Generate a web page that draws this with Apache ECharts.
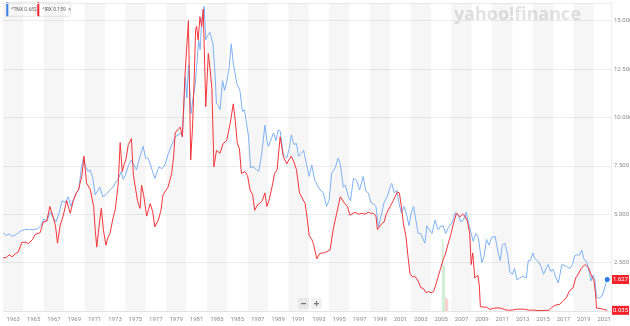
<!DOCTYPE html>
<html>
<head>
<meta charset="utf-8">
<script src="https://cdn.jsdelivr.net/npm/echarts@6/dist/echarts.min.js"></script>
<style>
  html, body { margin: 0; padding: 0; background: #fff; }
  #chart { width: 630px; height: 326px; }
</style>
</head>
<body>
<div id="chart"></div>
<script>
// 10-year Treasury yield (^TNX), [year, percent]
const tnx = [
  [1962.0,4.05],[1962.3,3.90],[1962.6,3.98],[1962.9,3.86],[1963.3,3.95],[1963.7,4.12],[1964.1,4.20],[1964.6,4.22],
  [1965.0,4.20],[1965.4,4.25],[1965.7,4.40],[1966.0,4.75],[1966.3,4.65],[1966.65,5.10],[1966.9,4.85],[1967.2,4.60],
  [1967.5,5.05],[1967.8,5.70],[1968.1,5.60],[1968.4,5.90],[1968.65,5.40],[1968.9,5.75],[1969.2,6.10],[1969.45,6.30],
  [1969.7,7.45],[1969.9,7.90],[1970.1,7.50],[1970.35,7.20],[1970.55,7.30],[1970.8,6.90],[1971.05,6.00],[1971.2,5.90],
  [1971.5,6.40],[1971.8,5.90],[1972.1,6.00],[1972.5,6.25],[1972.8,6.40],[1973.0,6.60],[1973.3,6.80],[1973.6,7.20],
  [1973.8,6.80],[1974.0,7.00],[1974.3,7.50],[1974.6,7.80],[1974.9,7.50],[1975.1,7.30],[1975.4,7.90],[1975.75,8.50],
  [1976.0,7.90],[1976.25,7.90],[1976.5,7.50],[1976.9,6.85],[1977.3,7.45],[1977.6,7.35],[1977.9,7.55],[1978.2,8.10],
  [1978.5,8.50],[1978.9,9.00],[1979.2,9.10],[1979.45,9.20],[1979.6,9.00],[1979.75,10.50],[1979.9,12.10],[1980.05,11.00],
  [1980.2,12.70],[1980.45,10.20],[1980.65,11.00],[1980.85,11.60],[1981.0,12.60],[1981.2,14.00],[1981.35,13.50],[1981.5,15.00],
  [1981.75,15.75],[1981.9,14.00],[1982.05,14.20],[1982.3,14.40],[1982.6,13.80],[1982.8,12.30],[1982.95,10.70],[1983.15,10.60],
  [1983.3,10.40],[1983.55,11.90],[1983.75,11.40],[1983.95,11.80],[1984.2,12.60],[1984.4,13.80],[1984.6,12.80],[1984.8,12.20],
  [1984.95,11.75],[1985.25,11.40],[1985.5,10.30],[1985.7,10.40],[1985.9,9.70],[1986.1,9.00],[1986.3,7.40],[1986.55,7.45],
  [1986.9,7.30],[1987.1,7.20],[1987.4,8.15],[1987.7,9.60],[1987.9,8.80],[1988.05,8.50],[1988.2,8.40],[1988.55,9.20],
  [1988.8,8.80],[1989.0,9.35],[1989.2,9.30],[1989.5,8.10],[1989.85,7.90],[1990.1,8.40],[1990.3,9.10],[1990.55,8.60],
  [1990.8,8.65],[1991.0,8.00],[1991.3,8.15],[1991.5,8.30],[1991.8,7.55],[1992.05,6.95],[1992.3,7.55],[1992.6,6.75],
  [1992.95,6.40],[1993.2,6.20],[1993.45,6.10],[1993.75,5.40],[1994.0,5.70],[1994.25,7.10],[1994.6,7.40],[1994.9,7.90],
  [1995.1,7.60],[1995.4,6.40],[1995.6,6.50],[1995.9,5.90],[1996.1,5.70],[1996.4,6.85],[1996.7,6.75],[1997.0,6.25],
  [1997.35,6.95],[1997.6,6.20],[1997.85,6.10],[1998.1,5.60],[1998.35,5.55],[1998.6,5.40],[1998.85,4.35],[1999.1,4.90],
  [1999.4,5.60],[1999.7,5.90],[2000.0,6.40],[2000.15,6.60],[2000.4,6.10],[2000.65,6.25],[2000.85,5.60],[2001.1,5.05],
  [2001.35,5.40],[2001.6,5.00],[2001.85,4.40],[2002.05,5.05],[2002.3,5.40],[2002.55,4.60],[2002.75,4.00],[2003.0,4.00],
  [2003.4,3.50],[2003.6,4.40],[2003.75,4.35],[2004.1,4.00],[2004.4,4.70],[2004.7,4.20],[2004.9,4.35],[2005.2,4.40],
  [2005.45,4.00],[2005.7,4.30],[2005.9,4.45],[2006.1,4.60],[2006.4,5.10],[2006.7,4.90],[2006.95,4.60],[2007.2,4.70],
  [2007.45,5.10],[2007.7,4.50],[2007.9,4.10],[2008.15,3.60],[2008.4,4.00],[2008.65,3.80],[2008.85,3.00],[2009.0,2.50],
  [2009.2,2.80],[2009.45,3.70],[2009.7,3.40],[2009.95,3.80],[2010.3,3.85],[2010.6,3.00],[2010.8,2.60],[2011.0,3.40],
  [2011.25,3.50],[2011.5,3.00],[2011.75,2.00],[2012.0,1.90],[2012.2,2.20],[2012.45,1.60],[2012.7,1.70],[2013.05,1.80],
  [2013.35,1.70],[2013.55,2.60],[2013.75,2.60],[2014.0,3.00],[2014.2,2.70],[2014.55,2.55],[2014.8,2.30],[2015.05,1.90],
  [2015.35,2.25],[2015.5,2.40],[2015.75,2.05],[2016.0,2.15],[2016.2,1.80],[2016.5,1.45],[2016.85,2.40],[2017.0,2.46],
  [2017.3,2.30],[2017.65,2.20],[2017.9,2.40],[2018.1,2.85],[2018.35,2.90],[2018.6,2.90],[2018.8,3.15],[2019.0,2.70],
  [2019.3,2.50],[2019.55,2.00],[2019.7,1.55],[2019.9,1.85],[2020.1,1.60],[2020.25,0.70],[2020.45,0.66],[2020.75,0.75],
  [2021.0,1.10],[2021.15,1.40],[2021.3,1.627]
];

// 13-week Treasury bill rate (^IRX), [year, percent]
const irx = [
  [1962.0,2.75],[1962.3,2.75],[1962.6,2.90],[1962.9,2.80],[1963.2,2.95],[1963.5,3.05],[1963.85,3.55],[1964.2,3.55],
  [1964.5,3.48],[1964.9,3.70],[1965.15,3.95],[1965.65,4.05],[1965.95,4.60],[1966.3,4.65],[1966.6,5.40],[1966.9,4.90],
  [1967.15,4.40],[1967.35,3.50],[1967.6,4.40],[1967.9,4.90],[1968.25,5.70],[1968.6,5.05],[1968.9,5.70],[1969.2,6.10],
  [1969.4,6.25],[1969.75,7.00],[1969.95,8.00],[1970.2,6.60],[1970.55,6.30],[1970.9,5.40],[1971.05,4.20],[1971.2,3.30],
  [1971.5,4.70],[1971.65,5.30],[1971.85,4.20],[1972.1,3.40],[1972.3,3.80],[1972.5,4.00],[1972.8,4.80],[1973.0,5.20],
  [1973.3,6.50],[1973.5,8.70],[1973.7,7.20],[1973.9,7.60],[1974.05,7.80],[1974.3,8.60],[1974.6,8.90],[1974.8,7.00],
  [1974.95,6.90],[1975.2,5.70],[1975.45,5.30],[1975.6,6.50],[1975.8,6.00],[1976.1,4.90],[1976.45,5.55],[1976.7,5.10],
  [1976.9,4.35],[1977.25,4.70],[1977.5,5.20],[1977.7,6.00],[1977.95,6.20],[1978.2,6.40],[1978.55,7.10],[1978.75,8.00],
  [1978.9,9.20],[1979.2,9.40],[1979.4,9.50],[1979.6,9.00],[1979.75,10.80],[1979.85,12.10],[1980.0,12.00],[1980.2,15.00],
  [1980.42,7.80],[1980.6,9.50],[1980.75,11.80],[1980.9,14.50],[1981.0,14.70],[1981.15,14.00],[1981.33,15.20],[1981.5,14.70],
  [1981.65,15.60],[1981.9,10.55],[1982.15,13.30],[1982.3,12.60],[1982.5,11.50],[1982.7,7.45],[1982.95,8.30],[1983.3,8.15],
  [1983.6,8.65],[1983.95,8.80],[1984.3,9.70],[1984.6,10.70],[1984.8,9.80],[1985.0,8.65],[1985.2,8.40],[1985.4,7.10],
  [1985.75,7.20],[1986.0,7.00],[1986.25,6.25],[1986.5,6.00],[1986.7,5.20],[1987.0,5.50],[1987.2,5.55],[1987.45,5.70],
  [1987.7,6.10],[1987.9,5.40],[1988.1,5.70],[1988.4,6.40],[1988.65,7.10],[1988.9,7.30],[1989.2,9.00],[1989.5,8.00],
  [1989.85,7.60],[1990.05,7.80],[1990.3,8.00],[1990.55,7.70],[1990.8,7.30],[1991.1,6.10],[1991.3,5.90],[1991.65,5.55],
  [1991.85,4.80],[1992.05,3.90],[1992.3,3.70],[1992.45,3.50],[1992.8,2.70],[1993.1,2.98],[1993.5,3.00],[1994.1,3.15],
  [1994.4,4.20],[1994.75,5.05],[1995.1,5.90],[1995.55,5.55],[1995.8,5.40],[1996.05,4.95],[1996.55,5.10],[1996.9,5.00],
  [1997.2,5.05],[1997.5,5.00],[1997.85,5.10],[1998.1,5.05],[1998.35,5.05],[1998.6,4.90],[1998.75,4.20],[1999.15,4.50],
  [1999.4,4.60],[1999.65,5.05],[2000.0,5.40],[2000.3,5.70],[2000.7,6.15],[2000.9,6.10],[2001.1,5.40],[2001.3,4.50],
  [2001.55,3.85],[2001.75,2.80],[2001.95,1.90],[2002.2,1.78],[2002.45,1.77],[2002.75,1.55],[2003.0,1.20],[2003.25,1.17],
  [2003.5,0.95],[2003.75,1.00],[2004.0,0.95],[2004.25,1.00],[2004.45,1.30],[2004.7,1.77],[2004.95,2.20],[2005.2,2.65],
  [2005.45,3.00],[2005.7,3.50],[2005.95,3.95],[2006.2,4.50],[2006.5,5.05],[2006.85,4.87],[2007.1,5.00],[2007.35,4.90],
  [2007.6,4.60],[2007.8,4.00],[2007.95,2.40],[2008.1,3.00],[2008.3,1.70],[2008.6,1.86],[2008.75,1.30],[2008.85,0.22],
  [2009.2,0.20],[2009.45,0.20],[2009.8,0.08],[2010.2,0.15],[2010.5,0.16],[2010.8,0.15],[2011.2,0.08],[2011.6,0.04],
  [2012.0,0.05],[2012.4,0.09],[2012.8,0.10],[2013.2,0.09],[2013.6,0.04],[2014.0,0.05],[2014.4,0.03],[2014.8,0.02],
  [2015.2,0.03],[2015.6,0.04],[2015.9,0.20],[2016.2,0.30],[2016.65,0.35],[2016.95,0.50],[2017.3,0.70],[2017.6,1.05],
  [2017.95,1.20],[2018.2,1.70],[2018.45,1.90],[2018.75,2.20],[2019.1,2.40],[2019.45,2.25],[2019.7,1.90],[2020.0,1.55],
  [2020.15,0.90],[2020.25,0.15],[2020.5,0.14],[2020.9,0.09],[2021.3,0.035]
];

// small volume-style bars around 2005
const volTimes  = [2005.15, 2005.32, 2005.47, 2005.62];
const volValues = [3.7, 2.3, 0.7, 0.6];
const volUp     = [true, true, false, false];

// shaded two-year bands (start years)
const bandStarts = [];
for (let y = 1962; y < 2022; y += 4) bandStarts.push(y);

// legend entries
const legendItems = [
  { name: '^TNX', value: '0.682', color: '#3d86ef', close: false },
  { name: '^IRX', value: '0.159', color: '#f0252d', close: true }
];

const BLUE = '#7eb1f3';
const RED = '#f3353b';
const TAG_RED = '#f2222b';

const lastTnx = tnx[tnx.length - 1];
const lastIrx = irx[irx.length - 1];

const chart = echarts.init(document.getElementById('chart'), null, { renderer: 'canvas' });

const labelFont = { fontSize: 6, color: '#8c8c8c', fontFamily: 'Roboto, sans-serif' };
const Y_MAX = 15.91;

// legend chips
const legendGraphics = [];
let lx = 6;
legendItems.forEach(item => {
  const label = item.name + ' ' + item.value + (item.close ? '  \u00d7' : '');
  const w = item.close ? 33 : 29;
  legendGraphics.push({
    type: 'group', left: lx, top: 2,
    children: [
      { type: 'rect', shape: { x: 0, y: 0, width: w, height: 14, r: 1 },
        style: { fill: '#ffffff', stroke: '#e3e3e3', lineWidth: 0.6, shadowBlur: 2, shadowColor: 'rgba(0,0,0,0.08)' } },
      { type: 'rect', shape: { x: 0, y: 0, width: 2, height: 14 }, style: { fill: item.color } },
      { type: 'text', x: 5, y: 4.5,
        style: { text: label, fill: '#666', font: '5px Roboto, sans-serif' } }
    ]
  });
  lx += w + 2;
});

const option = {
  animation: false,
  grid: { left: 3, right: 19, top: 3, bottom: 15, containLabel: false, outerBoundsMode: 'none' },
  xAxis: {
    type: 'value',
    min: 1962,
    max: 2021.67,
    interval: 1,
    axisLine: { show: true, lineStyle: { color: '#e4e4e4', width: 1 } },
    axisTick: { show: false },
    splitLine: { show: false },
    axisLabel: Object.assign({}, labelFont, {
      margin: 5,
      showMinLabel: false,
      showMaxLabel: false,
      formatter: v => (Math.round(v) % 2 === 1 ? String(Math.round(v)) : '')
    })
  },
  yAxis: [
    {
      type: 'value',
      position: 'right',
      min: 0,
      max: Y_MAX,
      interval: 2.5,
      axisLine: { show: true, lineStyle: { color: '#ececec' } },
      axisTick: { show: false },
      splitLine: { show: true, lineStyle: { color: '#ededed', width: 1 } },
      axisLabel: Object.assign({}, labelFont, {
        margin: 3,
        showMinLabel: false,
        showMaxLabel: false,
        formatter: v => v.toFixed(3)
      })
    },
    {
      // last-value tags on the price scale
      type: 'value',
      position: 'right',
      min: 0,
      max: Y_MAX,
      axisLine: { show: false },
      axisTick: { show: false },
      splitLine: { show: false },
      axisLabel: {
        show: true,
        customValues: [lastTnx[1], lastIrx[1]],
        formatter: v => v.toFixed(3),
        margin: 1,
        fontSize: 6,
        fontFamily: 'Roboto, sans-serif',
        color: '#fff',
        backgroundColor: TAG_RED,
        padding: [2, 1, 1, 1]
      }
    }
  ],
  graphic: [
    { type: 'text', left: 454, top: 6, silent: true,
      style: { text: 'yahoo!finance', fill: '#e3e3e3', font: 'bold 18px "Noto Sans", sans-serif' } },
    { type: 'group', left: 298, top: 298, children: [
      { type: 'rect', shape: { x: 0, y: 0, width: 11, height: 11, r: 1 }, style: { fill: '#f1f1f1' } },
      { type: 'rect', shape: { x: 3, y: 5, width: 5, height: 1.2 }, style: { fill: '#7a7a7a' } },
      { type: 'rect', shape: { x: 13, y: 0, width: 11, height: 11, r: 1 }, style: { fill: '#f1f1f1' } },
      { type: 'rect', shape: { x: 16, y: 5, width: 5, height: 1.2 }, style: { fill: '#7a7a7a' } },
      { type: 'rect', shape: { x: 17.9, y: 3, width: 1.2, height: 5 }, style: { fill: '#7a7a7a' } }
    ] }
  ].concat(legendGraphics),
  series: [
    {
      name: 'volume',
      type: 'bar',
      barWidth: 1.6,
      silent: true,
      data: volTimes.map((t, i) => ({
        value: [t, volValues[i]],
        itemStyle: { color: volUp[i] ? 'rgba(120,200,130,0.35)' : 'rgba(240,120,120,0.35)' }
      })),
      markArea: {
        silent: true,
        itemStyle: { color: 'rgba(0,0,0,0.035)' },
        data: bandStarts.map(s => [{ xAxis: s }, { xAxis: s + 2 }])
      }
    },
    {
      name: '^TNX',
      type: 'line',
      data: tnx,
      showSymbol: false,
      smooth: false,
      lineStyle: { color: BLUE, width: 1 },
      itemStyle: { color: BLUE },
      markPoint: {
        silent: true,
        symbol: 'circle',
        symbolSize: 5,
        itemStyle: { color: '#2f7de9' },
        label: { show: false },
        data: [{ coord: lastTnx }]
      }
    },
    {
      name: '^IRX',
      type: 'line',
      data: irx,
      showSymbol: false,
      smooth: false,
      lineStyle: { color: RED, width: 1 },
      itemStyle: { color: RED }
    }
  ]
};

chart.setOption(option);
</script>
</body>
</html>
